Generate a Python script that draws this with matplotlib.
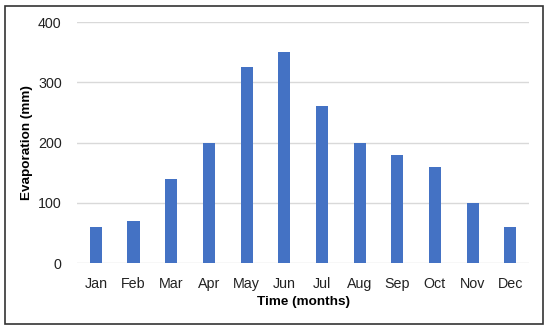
import matplotlib.pyplot as plt
import matplotlib.patches as patches

plt.rcParams['font.family'] = 'sans-serif'
plt.rcParams['font.sans-serif'] = ['Liberation Sans', 'Arial', 'DejaVu Sans']

# Monthly evaporation data
months = ['Jan', 'Feb', 'Mar', 'Apr', 'May', 'Jun',
          'Jul', 'Aug', 'Sep', 'Oct', 'Nov', 'Dec']
evaporation = [60, 70, 140, 200, 325, 350, 260, 200, 180, 160, 100, 60]
y_ticks = [0, 100, 200, 300, 400]

fig = plt.figure(figsize=(5.5, 3.31), dpi=100)
ax = fig.add_axes([0.14, 0.2054, 0.822, 0.7281])

ax.bar(months, evaporation, width=0.32, color='#4472C4', zorder=3)

ax.set_ylim(0, 400)
ax.set_xlim(-0.5, len(months) - 0.5)
ax.set_yticks(y_ticks)
ax.grid(axis='y', color='#D9D9D9', linewidth=1, zorder=0)
ax.grid(axis='x', visible=False)
for s in ax.spines.values():
    s.set_visible(False)
ax.tick_params(length=0, labelsize=10.3, colors='#222222')
ax.tick_params(axis='x', pad=10)
ax.tick_params(axis='y', pad=11)

ax.set_xlabel('Time (months)', fontsize=9.7, fontweight='bold', labelpad=4)
ax.set_ylabel('Evaporation (mm)', fontsize=9.7, fontweight='bold', labelpad=3.5)

# Outer frame
frame = patches.Rectangle((5 / 550, 1 - 324 / 331), 538 / 550, 318 / 331,
                          transform=fig.transFigure, fill=False,
                          edgecolor='#333333', linewidth=1.2)
fig.patches.append(frame)

fig.savefig('out.png', dpi=100)
